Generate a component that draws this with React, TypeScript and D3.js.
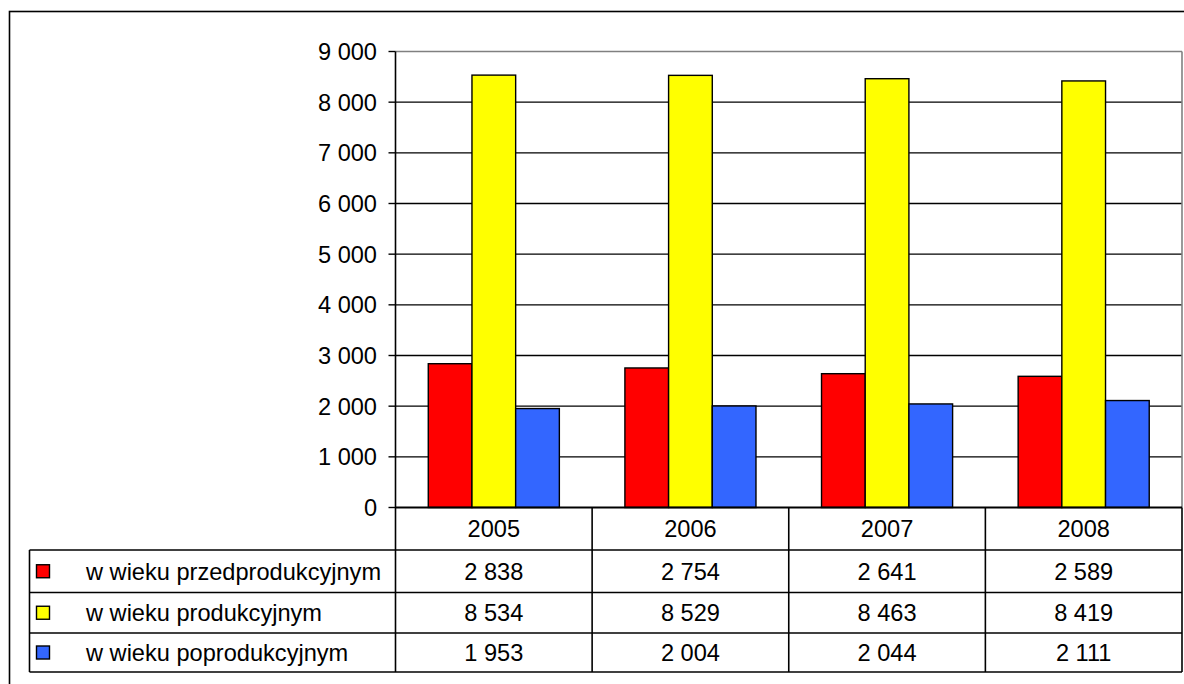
import React from "react";
import * as d3 from "d3";

const years = ["2005", "2006", "2007", "2008"];
const seriesNames = ["w wieku przedprodukcyjnym", "w wieku produkcyjnym", "w wieku poprodukcyjnym"];
const przed = [2838, 2754, 2641, 2589];
const prod = [8534, 8529, 8463, 8419];
const poprod = [1953, 2004, 2044, 2111];
const seriesColors = ["#FF0000", "#FFFF00", "#3366FF"];
const yTicks = [0, 1000, 2000, 3000, 4000, 5000, 6000, 7000, 8000, 9000];

const seriesValues = [przed, prod, poprod];

const locale = d3.formatLocale({ decimal: ",", thousands: " ", grouping: [3], currency: ["", ""] });
const fmt = locale.format(",d");

export default function App() {
  const W = 1184, H = 684;
  const plotL = 395.5, plotR = 1182, plotT = 51.5, plotB = 507.5;
  const rowY = [507.5, 550, 592.5, 633, 672];
  const tableL = 29.5;
  const font = "'Liberation Sans', Arial, sans-serif";
  const fs = 23.6;

  const x = d3.scaleBand<string>().domain(years).range([plotL, plotR]).paddingInner(0).paddingOuter(0);
  const xs = d3.scaleBand<number>().domain([0, 1, 2]).range([0, x.bandwidth()]).paddingInner(0).paddingOuter(0.75);
  const y = d3.scaleLinear().domain([0, 9000]).range([plotB, plotT]);

  return (
    <svg width={W} height={H} style={{ position: "absolute", left: 0, top: 0, background: "#fff" }}>
      <rect x={0} y={0} width={W} height={H} fill="#fff" />
      {/* outer frame */}
      <rect x={9.5} y={11.5} width={W + 20} height={H + 20} fill="none" stroke="#000" strokeWidth={1.6} />
      {/* gridlines */}
      {yTicks.filter((t) => t > 0 && t < 9000).map((t) => (
        <line key={t} x1={plotL} x2={plotR} y1={y(t)} y2={y(t)} stroke="#000" strokeWidth={1.4} />
      ))}
      {/* plot border top/right grey */}
      <line x1={plotL} x2={plotR} y1={y(9000)} y2={y(9000)} stroke="#808080" strokeWidth={1.6} />
      <line x1={plotR} x2={plotR} y1={plotT} y2={plotB} stroke="#808080" strokeWidth={1.6} />
      {/* bars */}
      {years.map((yr, i) => (
        <g key={yr}>
          {seriesValues.map((vals, s) => (
            <rect
              key={s}
              x={(x(yr) as number) + (xs(s) as number)}
              y={y(vals[i])}
              width={xs.bandwidth()}
              height={y(0) - y(vals[i])}
              fill={seriesColors[s]}
              stroke="#000"
              strokeWidth={1.4}
            />
          ))}
        </g>
      ))}
      {/* y axis */}
      <line x1={plotL} x2={plotL} y1={plotT} y2={rowY[4]} stroke="#000" strokeWidth={1.6} />
      {yTicks.map((t) => (
        <g key={t}>
          <line x1={plotL - 7} x2={plotL} y1={y(t)} y2={y(t)} stroke="#000" strokeWidth={1.4} />
          <text x={377} y={y(t)} dy="0.36em" textAnchor="end" fontFamily={font} fontSize={fs} fill="#000">
            {fmt(t)}
          </text>
        </g>
      ))}
      {/* data table */}
      <line x1={plotL} x2={plotR} y1={plotB} y2={plotB} stroke="#000" strokeWidth={1.8} />
      {rowY.slice(1).map((ry) => (
        <line key={ry} x1={tableL} x2={plotR} y1={ry} y2={ry} stroke="#000" strokeWidth={1.6} />
      ))}
      <line x1={tableL} x2={tableL} y1={rowY[1]} y2={rowY[4]} stroke="#000" strokeWidth={1.6} />
      {years.map((yr) => (
        <line key={yr} x1={(x(yr) as number) + x.bandwidth()} x2={(x(yr) as number) + x.bandwidth()} y1={plotB} y2={rowY[4]} stroke="#000" strokeWidth={1.6} />
      ))}
      {years.map((yr) => (
        <text key={yr} x={(x(yr) as number) + x.bandwidth() / 2} y={(rowY[0] + rowY[1]) / 2} dy="0.36em" textAnchor="middle" fontFamily={font} fontSize={fs} fill="#000">
          {yr}
        </text>
      ))}
      {seriesNames.map((name, s) => {
        const cy = (rowY[s + 1] + rowY[s + 2]) / 2;
        return (
          <g key={name}>
            <rect x={36.5} y={cy - 6.5} width={13} height={13} fill={seriesColors[s]} stroke="#000" strokeWidth={1.4} />
            <text x={86} y={cy} dy="0.36em" fontFamily={font} fontSize={fs} fill="#000">
              {name}
            </text>
            {years.map((yr, i) => (
              <text key={yr} x={(x(yr) as number) + x.bandwidth() / 2} y={cy} dy="0.36em" textAnchor="middle" fontFamily={font} fontSize={fs} fill="#000">
                {fmt(seriesValues[s][i])}
              </text>
            ))}
          </g>
        );
      })}
    </svg>
  );
}
